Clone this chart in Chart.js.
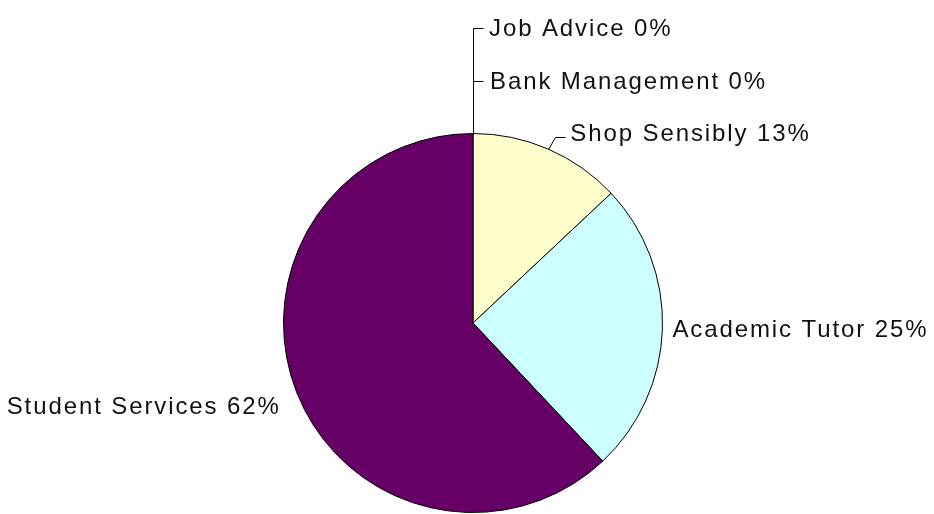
<!DOCTYPE html>
<html>
<head>
<meta charset="utf-8">
<title>Usage by service</title>
<script src="https://cdn.jsdelivr.net/npm/chart.js@4/dist/chart.umd.min.js"></script>
<style>
  html, body { margin: 0; padding: 0; background: #fff; }
  canvas { display: block; }
</style>
</head>
<body>
<canvas id="myChart" width="934" height="514"></canvas>
<script>
// Share of students by service (percent)
const services = ['Job Advice', 'Bank Management', 'Shop Sensibly', 'Academic Tutor', 'Student Services'];
const shares = [0, 0, 13, 25, 62];
const sliceColors = ['#ffffcc', '#ffffcc', '#ffffcc', '#ccffff', '#660066'];

// Where each label sits relative to the edge point of its slice:
// leader = polyline offsets from the edge point, text = offset of the text anchor
const labelLayout = [
    { leader: [[0, -106], [10, -106]], text: [16, -98], align: 'left' },
    { leader: [[0, -53], [10, -53]], text: [17, -45], align: 'left' },
    { leader: [[7, -12], [17, -12]], text: [22, -8], align: 'left' },
    { leader: [], text: [10, 8], align: 'left' },
    { leader: [], text: [-16, 21], align: 'right' }
];

const sliceLabels = {
    id: 'sliceLabels',
    afterDatasetsDraw(chart) {
        const ctx = chart.ctx;
        const arcs = chart.getDatasetMeta(0).data;
        ctx.save();
        ctx.font = '24px "Liberation Sans", Arial, sans-serif';
        ctx.letterSpacing = '1.9px';
        ctx.fillStyle = '#111';
        ctx.strokeStyle = '#000';
        ctx.lineWidth = 1;
        ctx.textBaseline = 'alphabetic';
        arcs.forEach((arc, i) => {
            const { x, y, startAngle, endAngle, outerRadius } = arc.getProps(['x', 'y', 'startAngle', 'endAngle', 'outerRadius'], true);
            const mid = (startAngle + endAngle) / 2;
            const ex = x + Math.cos(mid) * outerRadius;
            const ey = y + Math.sin(mid) * outerRadius;
            const lay = labelLayout[i];
            if (lay.leader.length) {
                ctx.beginPath();
                ctx.moveTo(Math.round(ex) + 0.5, Math.round(ey) + 0.5);
                lay.leader.forEach(p => ctx.lineTo(Math.round(ex + p[0]) + 0.5, Math.round(ey + p[1]) + 0.5));
                ctx.stroke();
            }
            ctx.textAlign = lay.align;
            ctx.fillText(services[i] + ' ' + shares[i] + '%', ex + lay.text[0], ey + lay.text[1]);
        });
        ctx.restore();
    }
};

const ctx = document.getElementById('myChart').getContext('2d');
const myChart = new Chart(ctx, {
    type: 'pie',
    data: {
        labels: services,
        datasets: [{
            data: shares,
            backgroundColor: sliceColors,
            borderColor: '#000',
            borderWidth: 1
        }]
    },
    options: {
        responsive: false,
        animation: false,
        layout: {
            padding: { left: 283, top: 133, right: 271, bottom: 1 }
        },
        plugins: {
            legend: { display: false },
            tooltip: { enabled: false }
        }
    },
    plugins: [sliceLabels]
});
</script>
</body>
</html>
